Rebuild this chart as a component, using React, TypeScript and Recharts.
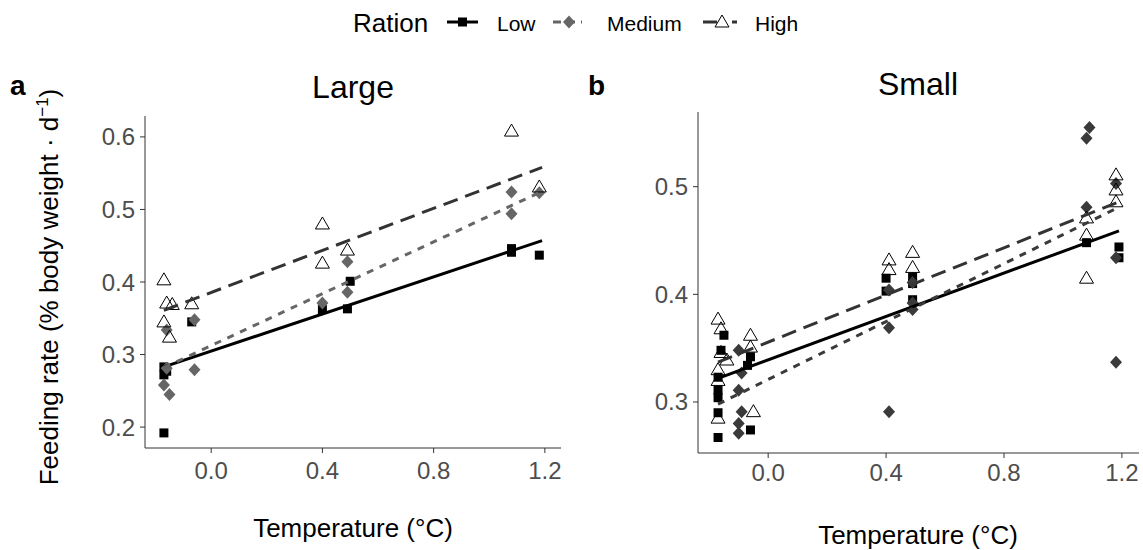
import React from "react";
import { ScatterChart, Scatter, XAxis, YAxis } from "recharts";

// [temperature, feeding rate]
const largeLow = [
  [-0.17, 0.283], [-0.17, 0.272], [-0.16, 0.277], [-0.17, 0.192], [-0.07, 0.345],
  [0.4, 0.362], [0.49, 0.363], [0.5, 0.401], [1.08, 0.441], [1.08, 0.446], [1.18, 0.437],
];
const largeMedium = [
  [-0.16, 0.334], [-0.16, 0.281], [-0.17, 0.258], [-0.15, 0.245], [-0.06, 0.348],
  [-0.06, 0.279], [0.4, 0.371], [0.49, 0.428], [0.49, 0.386], [1.08, 0.524],
  [1.08, 0.494], [1.18, 0.523],
];
const largeHigh = [
  [-0.17, 0.403], [-0.16, 0.371], [-0.14, 0.369], [-0.17, 0.345], [-0.15, 0.324],
  [-0.07, 0.37], [0.4, 0.48], [0.4, 0.426], [0.49, 0.444], [1.08, 0.608], [1.18, 0.531],
];
const smallLow = [
  [-0.15, 0.362], [-0.16, 0.348], [-0.17, 0.323], [-0.17, 0.311], [-0.17, 0.304],
  [-0.17, 0.29], [-0.17, 0.267], [-0.06, 0.342], [-0.07, 0.334], [-0.06, 0.274],
  [0.4, 0.415], [0.4, 0.403], [0.49, 0.416], [0.49, 0.41], [0.49, 0.395],
  [1.08, 0.448], [1.19, 0.444], [1.19, 0.434],
];
const smallMedium = [
  [-0.1, 0.348], [-0.09, 0.327], [-0.1, 0.311], [-0.09, 0.291], [-0.1, 0.28],
  [-0.1, 0.271], [0.41, 0.291], [0.41, 0.369], [0.41, 0.404], [0.49, 0.386],
  [0.49, 0.392], [0.49, 0.411], [1.09, 0.555], [1.08, 0.545], [1.08, 0.481],
  [1.18, 0.503], [1.18, 0.434], [1.18, 0.337],
];
const smallHigh = [
  [-0.17, 0.377], [-0.16, 0.368], [-0.16, 0.346], [-0.17, 0.33], [-0.14, 0.339],
  [-0.17, 0.32], [-0.17, 0.285], [-0.06, 0.362], [-0.06, 0.351], [-0.05, 0.291],
  [0.41, 0.432], [0.41, 0.423], [0.49, 0.439], [0.49, 0.425], [1.08, 0.471],
  [1.08, 0.455], [1.08, 0.415], [1.18, 0.511], [1.18, 0.497], [1.18, 0.486],
];

// fitted lines, endpoints
const largeFitLow = [[-0.17, 0.283], [1.19, 0.457]];
const largeFitMedium = [[-0.17, 0.282], [1.19, 0.525]];
const largeFitHigh = [[-0.17, 0.361], [1.19, 0.558]];
const smallFitLow = [[-0.17, 0.322], [1.19, 0.459]];
const smallFitMedium = [[-0.17, 0.298], [1.19, 0.481]];
const smallFitHigh = [[-0.17, 0.337], [1.19, 0.486]];

const xTicks = [0, 0.4, 0.8, 1.2];
const largeYTicks = [0.2, 0.3, 0.4, 0.5, 0.6];
const smallYTicks = [0.3, 0.4, 0.5];

const FONT = "'Liberation Sans', Arial, sans-serif";

const pts = (arr: number[][]) => arr.map(([t, r]) => ({ t, r }));

const Square = (props: any) => {
  const { cx, cy } = props;
  return <rect x={cx - 4.5} y={cy - 4.5} width={9} height={9} fill="#000" />;
};
const makeDiamond = (fill: string) => (props: any) => {
  const { cx, cy } = props;
  return (
    <polygon
      points={`${cx},${cy - 6.5} ${cx + 6},${cy} ${cx},${cy + 6.5} ${cx - 6},${cy}`}
      fill={fill}
    />
  );
};
const Triangle = (props: any) => {
  const { cx, cy } = props;
  return (
    <polygon
      points={`${cx},${cy - 7} ${cx + 7},${cy + 5} ${cx - 7},${cy + 5}`}
      fill="none"
      stroke="#000"
      strokeWidth={1}
    />
  );
};
const NoDot = () => <g />;

function Panel(props: {
  width: number;
  height: number;
  margin: any;
  yDomain: number[];
  yTicks: number[];
  xTickMargin: number;
  low: number[][];
  medium: number[][];
  high: number[][];
  fitLow: number[][];
  fitMedium: number[][];
  fitHigh: number[][];
  medColor: string;
}) {
  const tick = { fill: "#4d4d4d", fontSize: 24, fontFamily: FONT };
  return (
    <ScatterChart width={props.width} height={props.height} margin={props.margin}>
      <XAxis
        type="number"
        dataKey="t"
        domain={[-0.238, 1.258]}
        ticks={xTicks}
        tickFormatter={(v) => v.toFixed(1)}
        tick={tick}
        tickSize={5}
        tickMargin={props.xTickMargin}
        height={30}
        axisLine={{ stroke: "#333" }}
        tickLine={{ stroke: "#333" }}
        allowDataOverflow
      />
      <YAxis
        type="number"
        dataKey="r"
        domain={props.yDomain}
        ticks={props.yTicks}
        tickFormatter={(v) => v.toFixed(1)}
        tick={tick}
        tickSize={5}
        tickMargin={5}
        width={50}
        axisLine={{ stroke: "#333" }}
        tickLine={{ stroke: "#333" }}
        allowDataOverflow
      />
      <XAxis xAxisId="top" orientation="top" type="number" domain={[0, 1]} height={0} tick={false} tickLine={false} axisLine={{ stroke: "#333" }} />
      <YAxis yAxisId="right" orientation="right" type="number" domain={[0, 1]} width={0} tick={false} tickLine={false} axisLine={{ stroke: "#333" }} />
      <Scatter data={pts(props.low)} shape={Square} isAnimationActive={false} />
      <Scatter data={pts(props.medium)} shape={makeDiamond(props.medColor)} isAnimationActive={false} />
      <Scatter data={pts(props.high)} shape={Triangle} isAnimationActive={false} />
      <Scatter
        data={pts(props.fitLow)}
        shape={NoDot}
        line={{ stroke: "#000", strokeWidth: 3 }}
        isAnimationActive={false}
      />
      <Scatter
        data={pts(props.fitMedium)}
        shape={NoDot}
        line={{ stroke: props.medColor, strokeWidth: 3, strokeDasharray: "7 7" }}
        isAnimationActive={false}
      />
      <Scatter
        data={pts(props.fitHigh)}
        shape={NoDot}
        line={{ stroke: "#333", strokeWidth: 3, strokeDasharray: "15 8" }}
        isAnimationActive={false}
      />
    </ScatterChart>
  );
}

function Texts() {
  return (
    <svg width={1143} height={550} style={{ position: "absolute", left: 0, top: 0 }} fontFamily={FONT}>
      {/* legend */}
      <text x={353} y={32} fontSize={26}>Ration</text>
      <line x1={447} x2={478} y1={22} y2={22} stroke="#000" strokeWidth={3} />
      <rect x={458} y={17.5} width={9} height={9} fill="#000" />
      <text x={497} y={31} fontSize={21}>Low</text>
      <line x1={553} x2={582} y1={22} y2={22} stroke="#666" strokeWidth={3} strokeDasharray="8 6" />
      <polygon points="569,15.5 575,22 569,28.5 563,22" fill="#666" />
      <text x={607} y={31} fontSize={21}>Medium</text>
      <line x1={703} x2={737} y1={22} y2={22} stroke="#333" strokeWidth={3} strokeDasharray="14 15 5" />
      <polygon points="722,15 729,27 715,27" fill="#fff" stroke="#000" strokeWidth={1} />
      <text x={755} y={31} fontSize={21}>High</text>

      {/* panel tags and titles */}
      <text x={10} y={95} fontSize={28} fontWeight="bold">a</text>
      <text x={588} y={95} fontSize={28} fontWeight="bold">b</text>
      <text x={353} y={98} fontSize={32} textAnchor="middle">Large</text>
      <text x={918} y={95} fontSize={32} textAnchor="middle">Small</text>

      {/* y axis title */}
      <text transform="translate(58,287) rotate(-90)" fontSize={26} textAnchor="middle">
        Feeding rate (% body weight · d
        <tspan fontSize={17} dy={-10}>−1</tspan>
        <tspan dy={10}>)</tspan>
      </text>

      {/* x axis titles */}
      <text x={353} y={537} fontSize={26} textAnchor="middle">Temperature (°C)</text>
      <text x={918} y={544} fontSize={26} textAnchor="middle">Temperature (°C)</text>
    </svg>
  );
}

export default function App() {
  return (
    <div style={{ position: "absolute", left: 0, top: 0, width: 1143, height: 550, background: "#fff" }}>
      <Texts />
      <div style={{ position: "absolute", left: 0, top: 0 }}>
        <Panel
          width={580}
          height={550}
          margin={{ top: 116, left: 95, right: 19, bottom: 72 }}
          yDomain={[0.1712, 0.6288]}
          yTicks={largeYTicks}
          xTickMargin={9}
          low={largeLow}
          medium={largeMedium}
          high={largeHigh}
          fitLow={largeFitLow}
          fitMedium={largeFitMedium}
          fitHigh={largeFitHigh}
          medColor="#666"
        />
      </div>
      <div style={{ position: "absolute", left: 580, top: 0 }}>
        <Panel
          width={563}
          height={550}
          margin={{ top: 112, left: 68, right: 4, bottom: 67 }}
          yDomain={[0.2526, 0.5694]}
          yTicks={smallYTicks}
          xTickMargin={6}
          low={smallLow}
          medium={smallMedium}
          high={smallHigh}
          fitLow={smallFitLow}
          fitMedium={smallFitMedium}
          fitHigh={smallFitHigh}
          medColor="#3a3a3a"
        />
      </div>
    </div>
  );
}
